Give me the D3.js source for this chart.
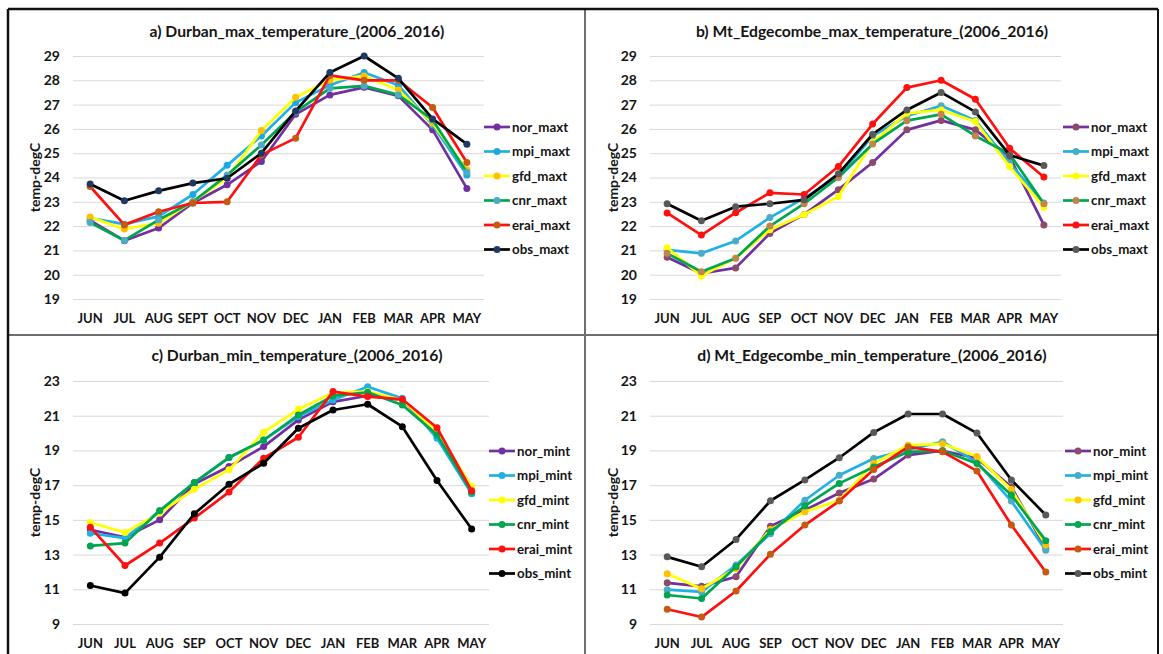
<!DOCTYPE html>
<html>
<head>
<meta charset="utf-8">
<script src="https://cdn.jsdelivr.net/npm/d3@7"></script>
<style>
  body { margin: 0; background: #fff; }
  svg { display: block; font-family: Lato, "Liberation Sans", sans-serif; }
</style>
</head>
<body>
<div id="chart"></div>
<script>
// months on the x axis
const months = ['JUN', 'JUL', 'AUG', 'SEPT', 'OCT', 'NOV', 'DEC', 'JAN', 'FEB', 'MAR', 'APR', 'MAY'];
const months2 = ['JUN', 'JUL', 'AUG', 'SEP', 'OCT', 'NOV', 'DEC', 'JAN', 'FEB', 'MAR', 'APR', 'MAY'];

const maxNames = ['nor_maxt', 'mpi_maxt', 'gfd_maxt', 'cnr_maxt', 'erai_maxt', 'obs_maxt'];
const minNames = ['nor_mint', 'mpi_mint', 'gfd_mint', 'cnr_mint', 'erai_mint', 'obs_mint'];

// a) Durban max, rows follow maxNames
const durbanMax = [
  [22.23, 21.40, 21.92, 22.95, 23.70, 24.66, 26.60, 27.40, 27.71, 27.36, 25.96, 23.55],
  [22.33, 22.08, 22.40, 23.30, 24.50, 25.71, 27.08, 27.80, 28.32, 27.80, 26.16, 24.10],
  [22.37, 21.88, 22.12, 23.01, 23.97, 25.93, 27.30, 28.00, 28.18, 27.60, 26.23, 24.32],
  [22.15, 21.41, 22.26, 23.00, 24.10, 25.34, 26.70, 27.67, 27.77, 27.40, 26.37, 24.22],
  [23.63, 22.05, 22.59, 22.95, 23.00, 24.93, 25.62, 28.20, 28.00, 28.00, 26.88, 24.62],
  [23.73, 23.04, 23.45, 23.77, 23.97, 25.00, 26.74, 28.32, 29.00, 28.08, 26.41, 25.37]
];

// b) Mt Edgecombe max
const edgeMax = [
  [20.72, 20.05, 20.28, 21.70, 22.48, 23.50, 24.62, 25.96, 26.35, 25.96, 24.85, 22.05],
  [21.02, 20.88, 21.39, 22.35, 23.15, 24.05, 25.70, 26.53, 26.95, 26.35, 24.60, 22.95],
  [21.11, 19.95, 20.68, 21.85, 22.48, 23.22, 25.45, 26.64, 26.78, 26.30, 24.45, 22.78],
  [20.88, 20.12, 20.68, 22.00, 22.92, 24.00, 25.38, 26.34, 26.60, 25.71, 24.97, 22.92],
  [22.54, 21.63, 22.55, 23.37, 23.30, 24.45, 26.20, 27.70, 28.00, 27.22, 25.20, 24.02],
  [22.92, 22.22, 22.80, 22.92, 23.08, 24.15, 25.78, 26.78, 27.50, 26.70, 24.92, 24.49]
];

// c) Durban min
const durbanMin = [
  [14.43, 14.00, 15.00, 17.07, 18.07, 19.22, 20.76, 21.80, 22.15, 21.90, 19.90, 16.53],
  [14.23, 13.95, 15.52, 17.15, 18.59, 19.60, 20.95, 21.90, 22.67, 22.00, 19.70, 16.50],
  [14.85, 14.27, 15.39, 16.77, 17.88, 20.05, 21.37, 22.33, 22.39, 21.90, 20.08, 16.92],
  [13.50, 13.66, 15.52, 17.15, 18.59, 19.60, 21.04, 22.14, 22.35, 21.62, 19.90, 16.60],
  [14.58, 12.37, 13.66, 15.10, 16.60, 18.55, 19.76, 22.39, 22.10, 21.95, 20.31, 16.67],
  [11.22, 10.78, 12.85, 15.35, 17.05, 18.26, 20.28, 21.33, 21.66, 20.37, 17.27, 14.47]
];

// d) Mt Edgecombe min
const edgeMin = [
  [11.37, 11.17, 11.72, 14.63, 15.56, 16.55, 17.35, 18.73, 18.98, 18.55, 16.90, 13.35],
  [10.98, 10.85, 12.40, 14.20, 16.13, 17.57, 18.53, 19.05, 19.50, 18.33, 16.08, 13.25],
  [11.90, 11.03, 12.20, 14.45, 15.47, 16.13, 18.25, 19.30, 19.38, 18.65, 16.75, 13.55],
  [10.67, 10.47, 12.30, 14.32, 15.80, 17.10, 18.05, 18.92, 18.98, 18.25, 16.43, 13.80],
  [9.85, 9.40, 10.90, 13.02, 14.70, 16.08, 17.90, 19.20, 18.92, 17.82, 14.70, 12.00],
  [12.87, 12.30, 13.87, 16.10, 17.30, 18.58, 20.04, 21.10, 21.10, 20.00, 17.30, 15.28]
];

const maxTicks = [19, 20, 21, 22, 23, 24, 25, 26, 27, 28, 29];
const minTicks = [9, 11, 13, 15, 17, 19, 21, 23];

const lineColors = ['#7030A0', '#1FB0E8', '#FFFF00', '#00A550', '#FF1010', '#000000'];

const panels = [
  {
    title: 'a) Durban_max_temperature_(2006_2016)', months: months, names: maxNames, values: durbanMax,
    ticks: maxTicks, cx: 297, titleY: 32, left: 73, right: 484, top: 56, bottom: 299, xLabY: 318,
    legX: 484, legY: 127, yTitleX: 35,
    marks: ['#7030A0', '#1FA8E0', '#FFC000', '#4BACC6', '#C55A11', '#1F3864']
  },
  {
    title: 'b) Mt_Edgecombe_max_temperature_(2006_2016)', months: months2, names: maxNames, values: edgeMax,
    ticks: maxTicks, cx: 872, titleY: 32, left: 650, right: 1061, top: 56, bottom: 299, xLabY: 318,
    legX: 1063, legY: 127, yTitleX: 613,
    marks: ['#8E4A6A', '#4BACC6', '#FFFF00', '#C0844F', '#FF1010', '#595959']
  },
  {
    title: 'c) Durban_min_temperature_(2006_2016)', months: months2, names: minNames, values: durbanMin,
    ticks: minTicks, cx: 297, titleY: 356, left: 73, right: 489, top: 381, bottom: 624, xLabY: 643,
    legX: 489, legY: 451, yTitleX: 35,
    marks: ['#7030A0', '#1FB0E8', '#FFFF00', '#00A550', '#FF1010', '#000000']
  },
  {
    title: 'd) Mt_Edgecombe_min_temperature_(2006_2016)', months: months2, names: minNames, values: edgeMin,
    ticks: minTicks, cx: 872, titleY: 356, left: 650, right: 1063, top: 381, bottom: 624, xLabY: 643,
    legX: 1065, legY: 451, yTitleX: 613,
    marks: ['#8E4A6A', '#4BACC6', '#FFC000', '#00A550', '#C55A11', '#595959']
  }
];

const width = 1163, height = 654;
const svg = d3.select('#chart').append('svg')
  .attr('width', width)
  .attr('height', height);

panels.forEach(p => {
  const g = svg.append('g');

  const x = d3.scaleBand().domain(p.months).range([p.left, p.right]);
  const y = d3.scaleLinear().domain([p.ticks[0], p.ticks[p.ticks.length - 1]]).range([p.bottom, p.top]);
  const xc = m => x(m) + x.bandwidth() / 2;

  // gridlines + y tick labels
  const yAxis = d3.axisLeft(y).tickValues(p.ticks).tickSize(-(p.right - p.left)).tickPadding(13);
  const ya = g.append('g').attr('transform', `translate(${p.left},0)`).call(yAxis);
  ya.select('.domain').remove();
  ya.selectAll('line').attr('stroke', '#d9d9d9').attr('stroke-width', 1);
  ya.selectAll('text').attr('font-size', 14).attr('font-weight', 'bold').attr('fill', '#151515')
    .attr('font-family', 'Lato, sans-serif');

  // month labels
  const xAxis = d3.axisBottom(x).tickSize(0).tickPadding(0);
  const xa = g.append('g').attr('transform', `translate(0,${p.xLabY})`).call(xAxis);
  xa.select('.domain').remove();
  xa.selectAll('text').attr('dy', '0.35em').attr('font-size', 13).attr('font-weight', 'bold').attr('fill', '#151515')
    .attr('font-family', 'Lato, sans-serif');

  // title
  g.append('text')
    .attr('x', p.cx).attr('y', p.titleY).attr('dy', '0.35em')
    .attr('text-anchor', 'middle')
    .attr('font-size', 15.7).attr('font-weight', 'bold').attr('fill', '#151515')
    .text(p.title);

  // y title
  const yMid = (p.top + p.bottom) / 2;
  g.append('text')
    .attr('transform', `translate(${p.yTitleX},${yMid}) rotate(-90)`)
    .attr('dy', '0.35em')
    .attr('text-anchor', 'middle')
    .attr('font-size', 14).attr('font-weight', 'bold').attr('fill', '#151515')
    .text('temp-degC');

  const line = d3.line().x((d, i) => xc(p.months[i])).y(d => y(d));

  p.values.forEach((vals, k) => {
    g.append('path')
      .datum(vals)
      .attr('fill', 'none')
      .attr('stroke', lineColors[k])
      .attr('stroke-width', 2.7)
      .attr('stroke-linejoin', 'round')
      .attr('d', line);

    g.selectAll(null)
      .data(vals)
      .enter().append('circle')
      .attr('cx', (d, i) => xc(p.months[i]))
      .attr('cy', d => y(d))
      .attr('r', 3.5)
      .attr('fill', p.marks[k]);
  });

  // legend
  const leg = g.append('g').attr('transform', `translate(${p.legX},${p.legY})`);
  p.names.forEach((name, k) => {
    const row = leg.append('g').attr('transform', `translate(0,${k * 24.5})`);
    row.append('line')
      .attr('x1', 0).attr('x2', 26).attr('y1', 0).attr('y2', 0)
      .attr('stroke', lineColors[k]).attr('stroke-width', 2.7);
    row.append('circle').attr('cx', 13).attr('cy', 0).attr('r', 3.5).attr('fill', p.marks[k]);
    row.append('text')
      .attr('x', 28).attr('y', 0).attr('dy', '0.35em')
      .attr('font-size', 13.3).attr('font-weight', 'bold').attr('fill', '#151515')
      .text(name);
  });
});

// panel frames
const frame = svg.append('g').attr('fill', 'none');
frame.append('line').attr('x1', 8).attr('x2', 1158).attr('y1', 335).attr('y2', 335).attr('stroke', '#6e6e6e').attr('stroke-width', 2);
frame.append('line').attr('x1', 585).attr('x2', 585).attr('y1', 9).attr('y2', 654).attr('stroke', '#6e6e6e').attr('stroke-width', 2);
frame.append('line').attr('x1', 8).attr('x2', 1158).attr('y1', 9).attr('y2', 9).attr('stroke', '#111').attr('stroke-width', 2.5);
frame.append('line').attr('x1', 8).attr('x2', 8).attr('y1', 9).attr('y2', 654).attr('stroke', '#111').attr('stroke-width', 2.5);
frame.append('line').attr('x1', 1158).attr('x2', 1158).attr('y1', 9).attr('y2', 654).attr('stroke', '#111').attr('stroke-width', 2);
</script>
</body>
</html>
